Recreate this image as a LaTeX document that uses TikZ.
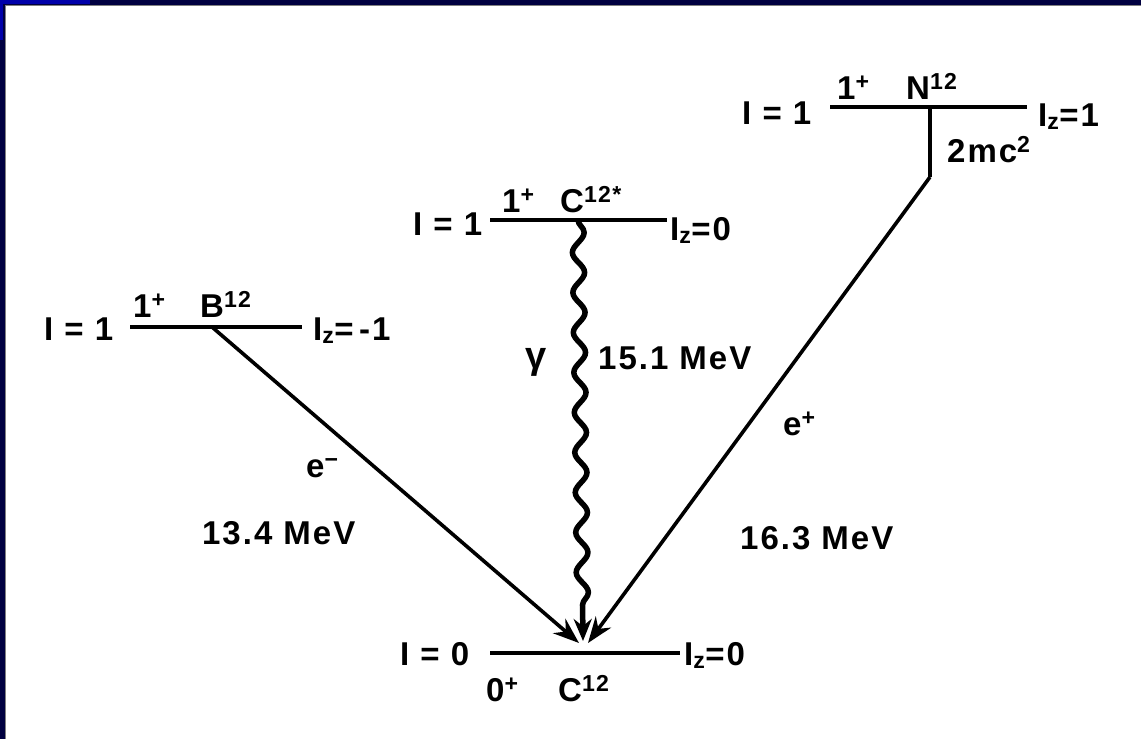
\documentclass[tikz,border=0pt]{standalone}
\usepackage{fontspec}
\setmainfont{Liberation Sans}
\usepackage{tikz}
\usetikzlibrary{arrows.meta, positioning, decorations.pathmorphing}
\definecolor{framenavy}{RGB}{0, 0, 64}
\definecolor{frameblue}{RGB}{0, 0, 170}

\begin{document}
\begin{tikzpicture}[x=1pt, y=-1pt,
    tag/.style={inner sep=0pt, anchor=base west,
                font=\fontsize{33}{36}\selectfont\bfseries\addfontfeature{LetterSpace=6}},
    lvl/.style={line width=4pt},
    decay/.style={line width=3.6pt, -{Stealth[length=26pt, width=19pt]}},
    photon/.style={line width=5.5pt, decorate,
                   decoration={snake, segment length=40pt, amplitude=6pt, post length=26pt},
                   -{Stealth[length=22pt, width=18pt]}}
]
    \useasboundingbox (0,0) rectangle (1141,739);
    % frame
    \fill[white] (0,0) rectangle (1141,739);
    \fill[framenavy] (0,0) rectangle (1141,5);
    \fill[framenavy] (0,0) rectangle (5,739);
    \fill[frameblue] (0,0) rectangle (90,4);
    \fill[frameblue] (0,0) rectangle (3,40);
    \draw[gray, line width=1pt] (5.5,739) -- (5.5,5.5) -- (1141,5.5);

    % B12 level
    \coordinate (bL) at (130,327);
    \coordinate (bR) at (302,327);
    \coordinate (bdec) at (212,327);
    \draw[lvl] (bL) -- (bR);
    \node[tag] (bI) at (44,340) {I = 1};
    \node[tag] (bJ) at (133,317) {1\textsuperscript{+}};
    \node[tag] (bName) at (200,317) {B\textsuperscript{12}};
    \node[tag] (bIz) at (313,340) {I\textsubscript{z}=\,-1};

    % C12* level
    \coordinate (cL) at (490,220);
    \coordinate (cR) at (667,220);
    \coordinate (cdec) at (578,220);
    \draw[lvl] (cL) -- (cR);
    \node[tag] (cI) at (413,235) {I = 1};
    \node[tag] (cJ) at (502,212) {1\textsuperscript{+}};
    \node[tag] (cName) at (560,212) {C\textsuperscript{12*}};
    \node[tag] (cIz) at (670,240) {I\textsubscript{z}=0};

    % N12 level
    \coordinate (nL) at (830,107);
    \coordinate (nR) at (1027,107);
    \coordinate (ndec) at (930,107);
    \coordinate (nkink) at (930,177);
    \draw[lvl] (nL) -- (nR);
    \node[tag] (nI) at (742,124) {I = 1};
    \node[tag] (nJ) at (837,99) {1\textsuperscript{+}};
    \node[tag] (nName) at (906,99) {N\textsuperscript{12}};
    \node[tag] (nIz) at (1038,126) {I\textsubscript{z}=1};
    \node[tag] (pair) at (947,162) {2mc\textsuperscript{2}};

    % ground level
    \coordinate (gL) at (490,653);
    \coordinate (gR) at (680,653);
    \coordinate (gl) at (579,643);
    \coordinate (gm) at (583,641);
    \coordinate (gr) at (588,643);
    \draw[lvl] (gL) -- (gR);
    \node[tag] (gI) at (400,665) {I = 0};
    \node[tag] (gIz) at (684,665) {I\textsubscript{z}=0};
    \node[tag] (gJ) at (486,701) {0\textsuperscript{+}};
    \node[tag] (gName) at (558,701) {C\textsuperscript{12}};

    % transitions
    \draw[decay] (bdec) -- (gl);
    \draw[photon] (cdec) -- (gm);
    \draw[lvl, line width=3.6pt] (ndec) -- (nkink);
    \draw[decay] (nkink) -- (gr);

    \node[tag, anchor=center, font=\fontsize{38}{40}\selectfont\bfseries] (gam) at (536,362) {γ};
    \node[tag] (gamE) at (598,369) {15.1 MeV};
    \node[tag] (em) at (306,477) {e\textsuperscript{−}};
    \node[tag] (emE) at (202,544) {13.4 MeV};
    \node[tag] (ep) at (783,435) {e\textsuperscript{+}};
    \node[tag] (epE) at (740,549) {16.3 MeV};
\end{tikzpicture}
\end{document}
